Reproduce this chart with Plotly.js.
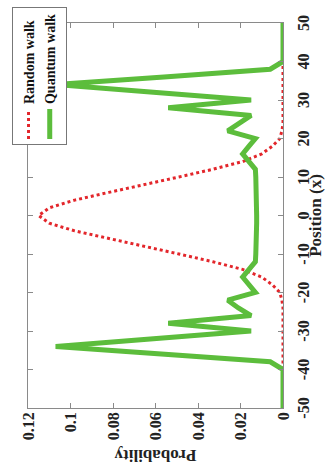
<!DOCTYPE html>
<html>
<head>
<meta charset="utf-8">
<script src="https://cdn.plot.ly/plotly-3.0.1.min.js"></script>
<style>
  html, body { margin: 0; padding: 0; background: #ffffff; overflow: hidden; }
  #wrap { position: absolute; left: 0; top: 0; width: 325px; height: 472px; overflow: hidden; background: #fff; }
  #chart { position: absolute; left: 0; top: 0; width: 472px; height: 325px;
           transform-origin: 0 0; transform: translateY(472px) rotate(-90deg); }
</style>
</head>
<body>
<div id="wrap"><div id="chart"></div></div>
<script>
// Random walk probability distribution
const rwPositions = [-40,-38,-36,-34,-32,-30,-28,-26,-24,-22,-20,-18,-16,-14,-12,-10,-8,-6,-4,-2,0,2,4,6,8,10,12,14,16,18,20,22,24,26,28,30,32,34,36,38,40];
const rwProbability = [0,0,0,0,0,0,0,0,0,0.0005,0.0015,0.005,0.010,0.019,0.033,0.049,0.065,0.082,0.098,0.110,0.115,0.110,0.098,0.082,0.065,0.049,0.033,0.019,0.010,0.005,0.0015,0.0005,0,0,0,0,0,0,0,0,0];

// Quantum walk probability distribution
const qwPositions = [-50,-48,-46,-44,-42,-40,-38,-36,-34,-32,-30,-28,-26,-24,-22,-20,-18,-16,-14,-12,-10,-8,-6,-4,-2,0,2,4,6,8,10,12,14,16,18,20,22,24,26,28,30,32,34,36,38,40,42,44,46,48,50];
const qwProbability = [0,0,0,0,0,0,0.006,0.056,0.107,0.061,0.015,0.054,0.015,0.021,0.026,0.013,0.016,0.019,0.016,0.013,0.0128,0.0126,0.0125,0.0125,0.0124,0.0124,0.0124,0.0125,0.0125,0.0126,0.0128,0.013,0.016,0.019,0.016,0.013,0.026,0.021,0.015,0.054,0.015,0.061,0.107,0.056,0.006,0,0,0,0,0,0];

const seriesNames = ["Random walk", "Quantum walk"];
const positionTicks = [-50,-40,-30,-20,-10,0,10,20,30,40,50];
const positionTickText = ["-50","-40","-30","-20","-10","0","10","20","30","40","50"];
const probabilityTicks = [0,0.02,0.04,0.06,0.08,0.1,0.12];
const probabilityTickText = ["0","0.02","0.04","0.06","0.08","0.1","0.12"];

const FONT = "Liberation Serif, Times New Roman, serif";
const tickFont = {family: FONT, size: 16, weight: 700, color: "#222"};
const titleFont = {family: FONT, size: 17, weight: 700, color: "#222"};

const traces = [
  {x: rwPositions, y: rwProbability, name: seriesNames[0], type: "scatter", mode: "lines",
   line: {color: "#e3262b", width: 3, dash: "dot"}},
  {x: qwPositions, y: qwProbability, name: seriesNames[1], type: "scatter", mode: "lines",
   line: {color: "#5cbd3c", width: 5}}
];

const axisCommon = {
  showgrid: false, zeroline: false, showline: true, linecolor: "#8a8a8a", linewidth: 1,
  mirror: "ticks", ticks: "inside", ticklen: 5, tickcolor: "#8a8a8a", tickwidth: 1,
  tickfont: tickFont
};

const layout = {
  width: 472, height: 325,
  margin: {l: 64, r: 23, t: 28, b: 42, autoexpand: false},
  paper_bgcolor: "#ffffff", plot_bgcolor: "#ffffff",
  showlegend: true,
  xaxis: Object.assign({}, axisCommon, {
    range: [-50, 50], tickmode: "array", tickvals: positionTicks, ticktext: positionTickText,
    ticklabelstandoff: 6,
    title: {text: "Position (x)", font: titleFont, standoff: 2}
  }),
  yaxis: Object.assign({}, axisCommon, {
    range: [0, 0.12], tickmode: "array", tickvals: probabilityTicks, ticktext: probabilityTickText,
    title: {text: "Probability", font: titleFont, standoff: 4}
  }),
  legend: {
    x: 0.683, xanchor: "left", y: 1.063, yanchor: "top",
    bgcolor: "#ffffff", bordercolor: "#777", borderwidth: 1,
    font: {family: FONT, size: 14, weight: 700, color: "#111"},
    tracegroupgap: 0
  }
};

Plotly.newPlot("chart", traces, layout, {staticPlot: true, displayModeBar: false});
</script>
</body>
</html>
